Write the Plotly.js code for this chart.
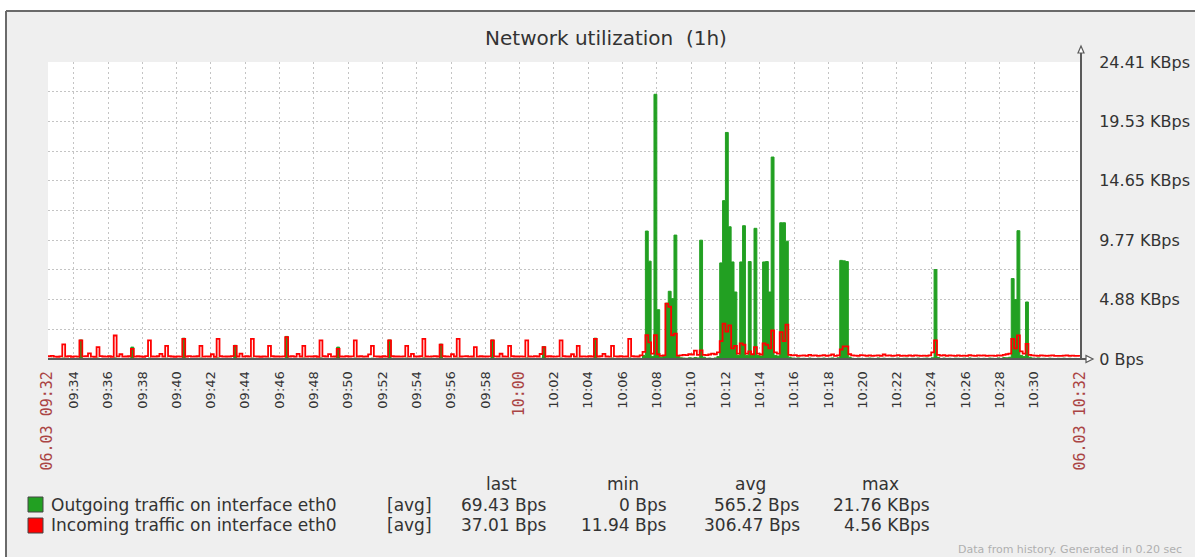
<!DOCTYPE html>
<html>
<head>
<meta charset="utf-8">
<script src="https://cdn.plot.ly/plotly-3.0.1.min.js"></script>
<style>html,body{margin:0;padding:0;background:#fff;}#chart{width:1195px;height:557px;}</style>
</head>
<body>
<div id="chart"></div>
<script>
// ---------------- DATA ----------------
// Samples every 10 s starting 06.03 09:32:30 (one row = one minute, 6 samples), values in Bps
const sampleStart = '2013-03-06 09:32:30';
const sampleStepSec = 10;

const outgoing = [ // Outgoing traffic on interface eth0 (green)
  40,60,30,20,50,80,     30,50,20,40,60,1600,   40,20,60,30,50,70,     30,40,20,60,30,90,
  50,30,40,20,60,1000,   30,50,20,40,30,80,     40,30,60,20,50,70,     30,40,20,50,30,1750,
  50,30,40,20,60,80,     30,50,20,40,30,90,     40,30,60,20,50,1150,   30,40,20,50,30,80,
  50,30,40,20,60,70,     30,50,20,40,30,1900,   40,30,60,20,50,80,     30,40,20,50,30,90,
  50,30,40,20,60,1000,   30,50,20,40,30,80,     40,30,60,20,50,70,     30,40,20,50,30,1600,
  50,30,40,20,60,80,     30,50,20,40,30,90,     40,30,60,20,50,1250,   30,40,20,50,30,80,
  50,30,40,20,60,70,     30,50,20,40,30,1600,   40,30,60,20,50,80,     30,40,20,50,30,90,
  50,30,40,20,60,1050,   30,50,20,40,30,80,     40,30,60,20,50,70,     30,40,20,50,30,1750,
  50,30,40,20,60,80,     30,50,20,40,30,90,
  40,30,60,50,300,10770,
  8235,200,22282,4150,150,200,
  4700,5700,5080,10430,200,100,
  80,60,100,70,120,90,
  10000,150,60,80,50,90,
  200,8090,13330,19070,11130,8170,
  5640,300,8170,11220,300,8200,
  300,11000,300,250,8170,8200,
  5640,17000,300,250,11470,11470,
  9920,150,80,60,90,50,
  60,40,80,50,30,70,
  50,80,40,60,90,50,
  100,8300,8260,8200,150,60,
  40,70,50,30,60,80,
  60,40,90,50,70,40,
  50,60,40,80,30,60,
  70,40,60,50,80,40,
  60,80,50,100,7530,120,
  40,80,50,60,30,70,
  60,30,70,40,90,50,
  50,70,40,60,30,80,
  60,40,90,50,120,100,
  150,6770,5000,10800,300,200,
  4800,150,80,60,90,50,
  60,40,70,50,30,60,
  50,70,40,60,30,50,
  40,60
];

const incoming = [ // Incoming traffic on interface eth0 (red)
  230,260,200,190,220,1230,  210,240,190,220,200,1560,  220,230,480,200,190,1000,  240,210,200,230,190,1980,
  220,400,200,210,230,850,   200,230,210,190,250,1560,  210,200,230,430,210,1110,  230,210,190,220,200,1700,
  210,240,200,210,230,1110,  200,220,210,400,190,1700,  230,200,210,210,240,1110,  210,460,200,230,210,1700,
  220,210,190,210,200,1110,  230,210,210,200,220,1840,  210,230,200,430,210,1110,  200,220,210,230,190,1560,
  230,210,410,200,210,850,   210,200,230,210,220,1560,  210,230,200,210,390,1110,  220,210,190,230,200,1560,
  230,210,210,200,220,1110,  200,430,210,210,230,1700,  210,200,220,230,210,1200,  230,210,200,400,210,1700,
  210,220,230,200,210,1000,  200,230,210,210,220,1560,  220,210,440,210,200,1110,  230,210,210,220,200,1560,
  210,200,230,210,420,1000,  210,230,210,200,220,1560,  230,210,210,400,200,1110,  210,220,200,230,210,1700,
  210,230,430,210,200,1110,  220,210,230,200,210,1700,
  230,210,210,300,600,2000,
  1400,450,2000,400,260,300,
  4669,4400,2000,2130,280,300,
  350,330,400,380,700,350,
  720,350,330,380,450,400,
  550,1500,2970,2300,2830,900,
  1100,450,1310,1200,450,650,
  400,1000,450,380,1310,1200,
  900,2400,550,450,2260,1500,
  2890,350,300,330,260,280,
  300,260,350,280,310,260,
  280,330,270,300,380,260,
  300,800,1060,1060,400,300,
  280,260,330,300,260,310,
  260,290,310,260,380,280,
  300,260,280,330,260,290,
  270,300,260,300,280,260,
  290,260,300,550,1560,350,
  280,330,260,300,290,260,
  300,270,290,260,330,280,
  260,300,280,310,260,290,
  280,260,300,290,350,400,
  450,1700,900,1985,650,450,
  1280,350,300,280,260,300,
  290,260,280,300,260,270,
  260,280,300,260,290,260,
  270,260
];

const xRange = ['2013-03-06 09:32:30', '2013-03-06 10:32:44'];
const tickTimes = ['09:32:30','09:34','09:36','09:38','09:40','09:42','09:44','09:46','09:48','09:50','09:52','09:54','09:56','09:58',
  '10:00','10:02','10:04','10:06','10:08','10:10','10:12','10:14','10:16','10:18','10:20','10:22','10:24','10:26','10:28','10:30','10:32:43'];
const tickLabels = ['06.03 09:32','09:34','09:36','09:38','09:40','09:42','09:44','09:46','09:48','09:50','09:52','09:54','09:56','09:58',
  '10:00','10:02','10:04','10:06','10:08','10:10','10:12','10:14','10:16','10:18','10:20','10:22','10:24','10:26','10:28','10:30','06.03 10:32'];
const redTicks = ['06.03 09:32','10:00','06.03 10:32'];

const yTickVals = [0, 5000, 10000, 15000, 20000, 25000];
const yTickText = ['0 Bps', '4.88 KBps', '9.77 KBps', '14.65 KBps', '19.53 KBps', '24.41 KBps'];
const yMinorVals = [2500, 7500, 12500, 17500, 22500];

const seriesNames = ['Outgoing traffic on interface eth0', 'Incoming traffic on interface eth0'];
const statHeaders = ['last', 'min', 'avg', 'max'];
const statsOut = ['69.43 Bps', '0 Bps', '565.2 Bps', '21.76 KBps'];
const statsIn = ['37.01 Bps', '11.94 Bps', '306.47 Bps', '4.56 KBps'];

// ---------------- BUILD ----------------
function pad(n){return (n<10?'0':'')+n;}
const baseSec = 9*3600+32*60+30;
const times = outgoing.map((_, i) => {
  const s = baseSec + i*sampleStepSec;
  return '2013-03-06 ' + pad(Math.floor(s/3600)) + ':' + pad(Math.floor(s/60)%60) + ':' + pad(s%60);
});

const W = 1195, H = 557, L = 48, R = 1081, T = 62, B = 359;
const fx = px => (px - L) / (R - L);
const fy = py => (B - py) / (B - T);

const tickValsFull = tickTimes.map(t => '2013-03-06 ' + (t.length === 5 ? t + ':00' : t));
const tickTextFull = tickLabels.map(t => redTicks.indexOf(t) >= 0
  ? '<span style="color:#aa4444;font-family:DejaVu Sans Mono;font-size:15px">' + t + '</span>' : t);

const green = '#22a022', red = '#ff0000', axisCol = '#5a5a5a', textCol = '#333333';

const traces = [
  {x: times, y: outgoing, type: 'scatter', mode: 'lines', line: {shape: 'hv', color: green, width: 1},
   fill: 'tozeroy', fillcolor: green, name: seriesNames[0], hoverinfo: 'x+y'},
  {x: times, y: incoming, type: 'scatter', mode: 'lines', line: {shape: 'hv', color: red, width: 1.8},
   name: seriesNames[1], hoverinfo: 'x+y'}
];

const shapes = [
  // white outside the frame
  {type:'rect', xref:'paper', yref:'paper', x0:fx(0), x1:fx(W), y0:fy(0), y1:fy(11), fillcolor:'#ffffff', line:{width:0}},
  {type:'rect', xref:'paper', yref:'paper', x0:fx(0), x1:fx(6), y0:fy(0), y1:fy(H), fillcolor:'#ffffff', line:{width:0}},
  // frame border
  {type:'line', xref:'paper', yref:'paper', x0:fx(6), x1:fx(W), y0:fy(11), y1:fy(11), line:{color:'#6a6a6a', width:2}},
  {type:'line', xref:'paper', yref:'paper', x0:fx(6), x1:fx(6), y0:fy(11), y1:fy(H), line:{color:'#6a6a6a', width:2}},
  // axes with arrows
  {type:'line', xref:'paper', yref:'paper', x0:fx(L), x1:fx(1086), y0:0, y1:0, line:{color:axisCol, width:2}},
  {type:'line', xref:'paper', yref:'paper', x0:1, x1:1, y0:0, y1:fy(52), line:{color:axisCol, width:2}},
  {type:'path', xref:'paper', yref:'paper',
   path:'M'+fx(1078)+','+fy(53)+' L'+fx(1084)+','+fy(53)+' L'+fx(1081)+','+fy(46)+' Z',
   fillcolor:'#ffffff', line:{color:axisCol, width:1.2}},
  {type:'path', xref:'paper', yref:'paper',
   path:'M'+fx(1086)+','+fy(355.5)+' L'+fx(1086)+','+fy(362.5)+' L'+fx(1093)+','+fy(359)+' Z',
   fillcolor:'#ffffff', line:{color:axisCol, width:1.2}},
  // legend swatches
  {type:'rect', xref:'paper', yref:'paper', x0:fx(28), x1:fx(43), y0:fy(512), y1:fy(497), fillcolor:green, line:{color:'#444', width:1}},
  {type:'rect', xref:'paper', yref:'paper', x0:fx(28), x1:fx(43), y0:fy(533), y1:fy(518), fillcolor:red, line:{color:'#444', width:1}}
];

const lgFont = {family:'DejaVu Sans', size:17, color:textCol};
const ann = [];
function addText(text, px, py, xanchor, font){
  ann.push({text:text, xref:'paper', yref:'paper', x:fx(px), y:fy(py), xanchor:xanchor, yanchor:'middle',
            showarrow:false, font:font, borderpad:0});
}
const headerX = [501, 623, 750, 880];
const rightX = [548, 668, 801, 931];
statHeaders.forEach((h, k) => addText(h, headerX[k], 484, 'center', lgFont));
addText(seriesNames[0], 50, 505, 'left', lgFont);
addText(seriesNames[1], 50, 525, 'left', lgFont);
addText('[avg]', 386, 505, 'left', lgFont);
addText('[avg]', 386, 525, 'left', lgFont);
statsOut.forEach((v, k) => addText(v, rightX[k], 505, 'right', lgFont));
statsIn.forEach((v, k) => addText(v, rightX[k], 525, 'right', lgFont));
addText('Data from history. Generated in 0.20 sec', 957, 549, 'left', {family:'DejaVu Sans', size:11, color:'#b0b0b0'});

const layout = {
  width: W, height: H,
  margin: {l: L, r: W - R, t: T, b: H - B, pad: 0},
  paper_bgcolor: '#efefef',
  plot_bgcolor: '#ffffff',
  showlegend: false,
  font: {family: 'DejaVu Sans', color: textCol},
  title: {text: 'Network utilization&nbsp;&nbsp;(1h)', x: 606/W, xref: 'container', xanchor: 'center',
          y: 1 - 38/H, yref: 'container', yanchor: 'middle',
          font: {family: 'DejaVu Sans', size: 20, color: textCol}},
  xaxis: {
    type: 'date', range: xRange, fixedrange: true,
    tickmode: 'array', tickvals: tickValsFull, ticktext: tickTextFull,
    tickangle: -90, tickfont: {family: 'DejaVu Sans', size: 13, color: textCol},
    ticks: 'outside', ticklen: 6, tickcolor: 'rgba(0,0,0,0)',
    showgrid: true, gridcolor: '#c4c4c4', griddash: '2px,3px', gridwidth: 1,
    showline: false, zeroline: false
  },
  yaxis: {
    range: [0, 25000], side: 'right', fixedrange: true,
    tickmode: 'array', tickvals: yTickVals, ticktext: yTickText,
    tickfont: {family: 'DejaVu Sans', size: 16, color: textCol},
    ticks: 'outside', ticklen: 14, tickcolor: 'rgba(0,0,0,0)',
    showgrid: true, gridcolor: '#c4c4c4', griddash: '2px,2px', gridwidth: 1,
    minor: {tickmode: 'array', tickvals: yMinorVals, showgrid: true, gridcolor: '#c4c4c4', griddash: '2px,2px', gridwidth: 1, ticks: ''},
    showline: false, zeroline: false
  },
  shapes: shapes,
  annotations: ann
};

Plotly.newPlot('chart', traces, layout, {displayModeBar: false, staticPlot: true});
</script>
</body>
</html>
